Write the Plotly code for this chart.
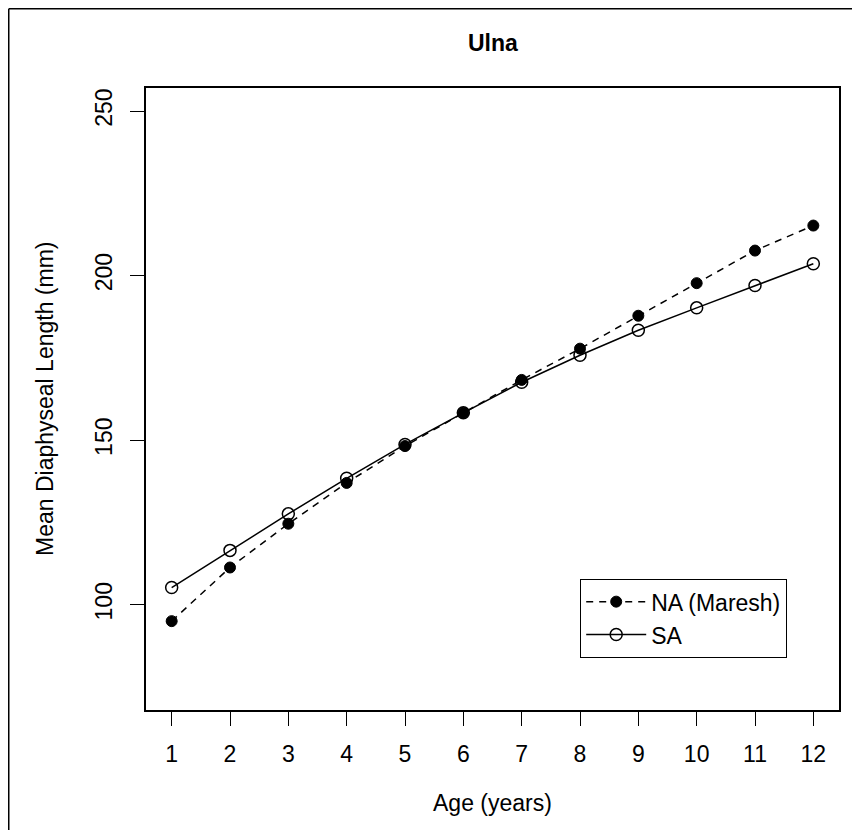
import plotly.graph_objects as go

age = [1, 2, 3, 4, 5, 6, 7, 8, 9, 10, 11, 12]
na_maresh = [95.0, 111.3, 124.6, 137.0, 148.2, 158.3, 168.3, 177.8, 187.8, 197.7, 207.6, 215.2]
sa = [105.2, 116.5, 127.6, 138.4, 148.7, 158.3, 167.6, 175.8, 183.4, 190.2, 197.0, 203.6]
x_ticks = list(range(1, 13))
y_ticks = [100, 150, 200, 250]

OFF = 8  # page body margin
W, H = 860, 830
L, T = 146 - OFF, 88 - OFF
R = W - (839 - OFF)
B = H - (710 - OFF)
pw, ph = W - L - R, H - T - B

def px(x_page):
    return (x_page - OFF - L) / pw

def py(y_page):
    return (H - B - (y_page - OFF)) / ph

font = "Liberation Sans, Arial, Helvetica, sans-serif"
FS = 23

fig = go.Figure()
fig.add_trace(go.Scatter(
    x=age, y=na_maresh, mode="lines+markers", name="NA (Maresh)",
    line=dict(color="black", width=1.5, dash="7px,6px"),
    marker=dict(symbol="circle", size=11, color="black", line=dict(color="black", width=1)),
))
fig.add_trace(go.Scatter(
    x=age, y=sa, mode="lines+markers", name="SA",
    line=dict(color="black", width=1.5),
    marker=dict(symbol="circle-open", size=12, color="black", line=dict(color="black", width=1.5)),
))

fig.update_layout(
    width=W, height=H,
    margin=dict(l=L, r=R, t=T, b=B),
    paper_bgcolor="white", plot_bgcolor="white",
    font=dict(family=font, size=FS, color="black"),
    showlegend=True,
    legend=dict(
        x=px(580), y=py(579), xanchor="left", yanchor="top",
        bordercolor="black", borderwidth=1.2, bgcolor="white",
        font=dict(size=FS), itemwidth=60,
    ),
    annotations=[
        dict(text="<b>Ulna</b>", x=0.5, xref="paper", y=py(43), yref="paper",
             showarrow=False, font=dict(size=FS), xanchor="center", yanchor="middle"),
        dict(text="Age (years)", x=0.5, xref="paper", y=py(803), yref="paper",
             showarrow=False, font=dict(size=FS), xanchor="center", yanchor="middle"),
        dict(text="Mean Diaphyseal Length (mm)", x=px(45), xref="paper", y=0.5, yref="paper",
             showarrow=False, font=dict(size=FS), textangle=-90, xanchor="center", yanchor="middle"),
    ],
    shapes=[
        dict(type="line", xref="paper", yref="paper", x0=px(8.75), x1=px(880), y0=py(8.75), y1=py(8.75),
             line=dict(color="black", width=1.5)),
        dict(type="line", xref="paper", yref="paper", x0=px(8.75), x1=px(8.75), y0=py(8.75), y1=py(860),
             line=dict(color="black", width=1.5)),
    ],
)

fig.update_xaxes(
    range=[0.56, 12.44], tickmode="array", tickvals=x_ticks, ticktext=[str(v) for v in x_ticks],
    ticks="outside", ticklen=14, tickwidth=1.2, tickcolor="black", ticklabelstandoff=9,
    showline=True, linecolor="black", linewidth=1.5, mirror=True,
    showgrid=False, zeroline=False, tickfont=dict(size=FS),
)
fig.update_yaxes(
    range=[68, 257], tickmode="array", tickvals=y_ticks, ticktext=[str(v) for v in y_ticks],
    ticks="outside", ticklen=14, tickwidth=1.2, tickcolor="black", ticklabelstandoff=9,
    showline=True, linecolor="black", linewidth=1.5, mirror=True,
    showgrid=False, zeroline=False, tickangle=-90, tickfont=dict(size=FS),
)

fig.write_html("out.html")
